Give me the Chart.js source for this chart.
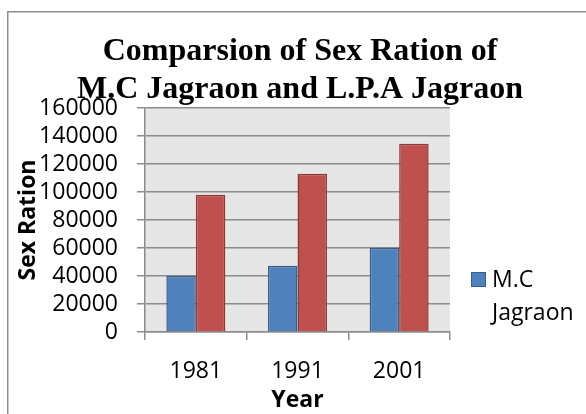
<!DOCTYPE html>
<html>
<head>
<meta charset="utf-8">
<script src="https://cdn.jsdelivr.net/npm/chart.js@4/dist/chart.umd.min.js"></script>
<style>
  html, body { margin: 0; padding: 0; background: #fff; }
  #wrap { position: relative; width: 586px; height: 414px; }
</style>
</head>
<body>
<div id="wrap"><canvas id="chart" width="586" height="414"></canvas></div>
<script>
const years = ['1981', '1991', '2001'];
const mcJagraon = [40000, 47400, 60200];
const lpaJagraon = [98100, 113100, 134500];
const seriesNames = ['M.C Jagraon', 'L.P.A Jagraon'];
const titleLines = ['Comparsion of Sex Ration of', 'M.C Jagraon and L.P.A Jagraon'];

const tickFont = { family: 'Open Sans', size: 23 };
const gridGray = '#8c8c8c';

// frame, grey plot area, title and the (clipped) legend
const decor = {
  id: 'decor',
  beforeDraw(chart) {
    const { ctx, chartArea: a } = chart;
    ctx.save();
    ctx.fillStyle = '#e6e6e6';
    ctx.fillRect(a.left, a.top, a.right - a.left, a.bottom - a.top);
    ctx.strokeStyle = '#8f8f8f';
    ctx.lineWidth = 1.5;
    ctx.strokeRect(7.75, 11.75, 700, 500);
    ctx.restore();
  },
  afterDraw(chart) {
    const { ctx } = chart;
    ctx.save();
    ctx.fillStyle = '#000';
    ctx.textAlign = 'center';
    ctx.textBaseline = 'alphabetic';
    ctx.font = 'bold 32px "Liberation Serif"';
    ctx.fillText(titleLines[0], 300, 60);
    ctx.fillText(titleLines[1], 300, 98);

    const ds = chart.data.datasets[0];
    ctx.fillStyle = ds.backgroundColor;
    ctx.fillRect(471, 272, 15, 15);
    ctx.strokeStyle = ds.borderColor;
    ctx.lineWidth = 1;
    ctx.strokeRect(471.5, 272.5, 14, 14);
    ctx.fillStyle = '#000';
    ctx.textAlign = 'left';
    ctx.font = '23px "Open Sans"';
    const words = ds.label.split(' ');
    ctx.fillText(words[0], 492, 287);
    ctx.fillText(words[1], 492, 320);
    ctx.restore();
  }
};

new Chart(document.getElementById('chart'), {
  type: 'bar',
  data: {
    labels: years,
    datasets: [
      {
        label: seriesNames[0],
        data: mcJagraon,
        backgroundColor: '#4f81bd',
        borderColor: '#385d8a',
        borderWidth: 1.5
      },
      {
        label: seriesNames[1],
        data: lpaJagraon,
        backgroundColor: '#c0504d',
        borderColor: '#8c3836',
        borderWidth: 1.5
      }
    ]
  },
  options: {
    responsive: false,
    animation: false,
    devicePixelRatio: 1,
    layout: { padding: { top: 108, right: 136, bottom: 0, left: 0 } },
    datasets: { bar: { categoryPercentage: 0.58, barPercentage: 1 } },
    plugins: {
      legend: { display: false },
      title: { display: false },
      tooltip: { enabled: false }
    },
    scales: {
      x: {
        afterFit(scale) { scale.height = 82; },
        grid: {
          drawOnChartArea: false,
          drawTicks: true,
          tickLength: 8,
          color: gridGray,
          lineWidth: 1.5
        },
        border: { color: gridGray, width: 1.5 },
        ticks: { color: '#000', font: tickFont, padding: 18 },
        title: {
          display: true,
          text: 'Year',
          color: '#000',
          font: { family: 'Open Sans', size: 23, weight: 'bold' },
          padding: { top: 0, bottom: 0 }
        }
      },
      y: {
        min: 0,
        max: 160000,
        afterFit(scale) { scale.width = 145; },
        grid: {
          drawTicks: true,
          tickLength: 8,
          color: gridGray,
          lineWidth: 1.5
        },
        border: { color: gridGray, width: 1.5 },
        ticks: {
          stepSize: 20000,
          autoSkip: false,
          color: '#000',
          font: tickFont,
          padding: 19,
          callback: v => String(v)
        },
        title: {
          display: true,
          text: 'Sex Ration',
          color: '#000',
          font: { family: 'Open Sans', size: 23, weight: 'bold' },
          padding: { top: 15, bottom: 0 }
        }
      }
    }
  },
  plugins: [decor]
});
</script>
</body>
</html>
